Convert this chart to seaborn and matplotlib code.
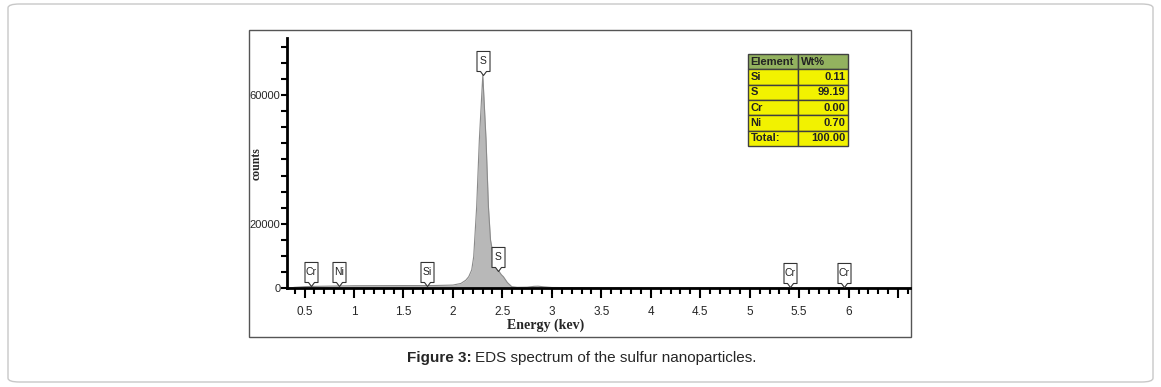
import matplotlib
matplotlib.use("Agg")
import matplotlib.pyplot as plt
import seaborn as sns
import pandas as pd
from matplotlib.patches import FancyBboxPatch, Rectangle
from matplotlib.path import Path
from matplotlib.ticker import MultipleLocator

# spectrum (energy in keV, counts)
energia = [0.33, 0.40, 0.50, 0.60, 0.80, 1.00, 1.50, 1.80, 2.00, 2.08, 2.13, 2.16,
           2.19, 2.21, 2.24, 2.267, 2.302, 2.335, 2.359, 2.38, 2.41, 2.44, 2.46, 2.49,
           2.51, 2.55, 2.595, 2.65, 2.75, 2.82, 2.86, 2.92, 3.00, 3.50, 4.00, 5.00, 6.62]
cuentas = [0, 300, 500, 600, 700, 800, 850, 850, 1000, 1500, 2500, 3600,
           5700, 9800, 25300, 46000, 66200, 46000, 25300, 15000, 9800, 6500, 5500, 4200,
           3600, 1800, 500, 300, 350, 600, 650, 450, 250, 150, 100, 80, 50]

# element tags: name, energy, counts at tip
tags = ["Cr", "Ni", "Si", "S", "S", "Cr", "Cr"]
tags_e = [0.57, 0.85, 1.74, 2.302, 2.46, 5.41, 5.95]
tags_y = [700, 750, 850, 66200, 5500, 300, 300]

# wt% table
elementos = ["Si", "S", "Cr", "Ni", "Total:"]
wt = ["0.11", "99.19", "0.00", "0.70", "100.00"]

x_ticks = [0.5, 1, 1.5, 2, 2.5, 3, 3.5, 4, 4.5, 5, 5.5, 6]
y_ticks = [0, 20000, 40000, 60000]
y_labels = ["0", "20000", "", "60000"]

sns.set_style("ticks")
plt.rcParams["font.family"] = ["Liberation Sans", "DejaVu Sans"]

df = pd.DataFrame({"energia": energia, "cuentas": cuentas})

fig = plt.figure(figsize=(11.61, 3.87), dpi=100)
W, H = 1161, 387

# outer page frame and inner image frame (behind the axes)
marco = FancyBboxPatch((8 / W, 5 / H), 1145 / W, 378 / H,
                       boxstyle="round,pad=0,rounding_size=0.01",
                       transform=fig.transFigure, fc="white", ec="#c8c8c8", lw=1, zorder=-3)
caja = Rectangle((249 / W, 1 - 337 / H), 662 / W, 307 / H,
                 transform=fig.transFigure, fc="white", ec="#555555", lw=1, zorder=-2)
fig.patches.extend([marco, caja])

ax = fig.add_axes([287.3 / W, 1 - 288.3 / H, 622.7 / W, 250.3 / H])
ax.set_facecolor("none")
ax.set_zorder(2)

ax.fill_between(df["energia"], df["cuentas"], color="#b8b8b8", lw=0)
sns.lineplot(data=df, x="energia", y="cuentas", ax=ax, color="#8a8a8a", lw=0.8)

ax.set_xlim(0.326, 6.62)
ax.set_ylim(0, 77700)
sns.despine(ax=ax)
for s in ["left", "bottom"]:
    ax.spines[s].set_linewidth(2)
    ax.spines[s].set_color("black")

ax.set_xticks(x_ticks + [6.5])
ax.set_xticklabels([str(v) for v in x_ticks] + [""])
ax.xaxis.set_minor_locator(MultipleLocator(0.1))
ax.set_yticks(y_ticks)
ax.set_yticklabels(y_labels)
ax.yaxis.set_minor_locator(MultipleLocator(5000))
ax.tick_params(axis="x", which="major", length=7, width=1.5, labelsize=8.5, pad=6, color="black")
ax.tick_params(axis="x", which="minor", length=4, width=1.5, color="black")
ax.tick_params(axis="y", which="major", length=4, width=1.5, labelsize=8, pad=1, color="black")
ax.tick_params(axis="y", which="minor", length=4, width=1.5, color="black")

ax.set_xlabel("")
ax.set_ylabel("")
fig.text(546 / W, 1 - 325 / H, "Energy (kev)", ha="center", va="center",
         family="Liberation Serif", weight="bold", fontsize=10)
fig.text(257 / W, 1 - 164 / H, "counts", ha="center", va="center", rotation=90,
         family="Liberation Serif", weight="bold", fontsize=8.5)

# tag shape: box with a V notch pointing down to the tip at (0, 0)
tag_path = Path([(0, 0), (3, 4), (6.5, 4), (6.5, 24), (-6.5, 24), (-6.5, 4), (-3, 4), (0, 0)],
                [Path.MOVETO] + [Path.LINETO] * 6 + [Path.CLOSEPOLY])
for t, e, y in zip(tags, tags_e, tags_y):
    ax.plot([e], [y], marker=tag_path, ms=34.6, mfc="white", mec="#333333", mew=0.8,
            ls="none", zorder=5)
    ax.annotate(t, xy=(e, y), xytext=(0, 10), textcoords="offset points",
                ha="center", va="center", fontsize=7.5, color="#222222", zorder=6)

tabla = ax.table(cellText=[[a, b] for a, b in zip(elementos, wt)],
                 colLabels=["Element", "Wt%"],
                 cellLoc="right", bbox=[0.740, 0.5685, 0.1606, 0.3676])
tabla.auto_set_font_size(False)
for (r, c), cell in tabla.get_celld().items():
    cell.set_edgecolor("#404040")
    cell.set_linewidth(1)
    cell.set_text_props(fontsize=8, fontweight="bold", color="#222222")
    cell.PAD = 0.05
    if r == 0:
        cell.set_facecolor("#93b25f")
        cell.get_text().set_ha("left")
    else:
        cell.set_facecolor("#f2f200")
        if c == 0:
            cell.get_text().set_ha("left")

fig.text(472 / W, 1 - 358 / H, "Figure 3:", ha="right", va="center",
         family=["Liberation Sans", "DejaVu Sans"], weight="bold", fontsize=11)
fig.text(475 / W, 1 - 358 / H, "EDS spectrum of the sulfur nanoparticles.", ha="left", va="center",
         family=["Liberation Sans", "DejaVu Sans"], fontsize=11)

fig.savefig("out.png", dpi=100)
